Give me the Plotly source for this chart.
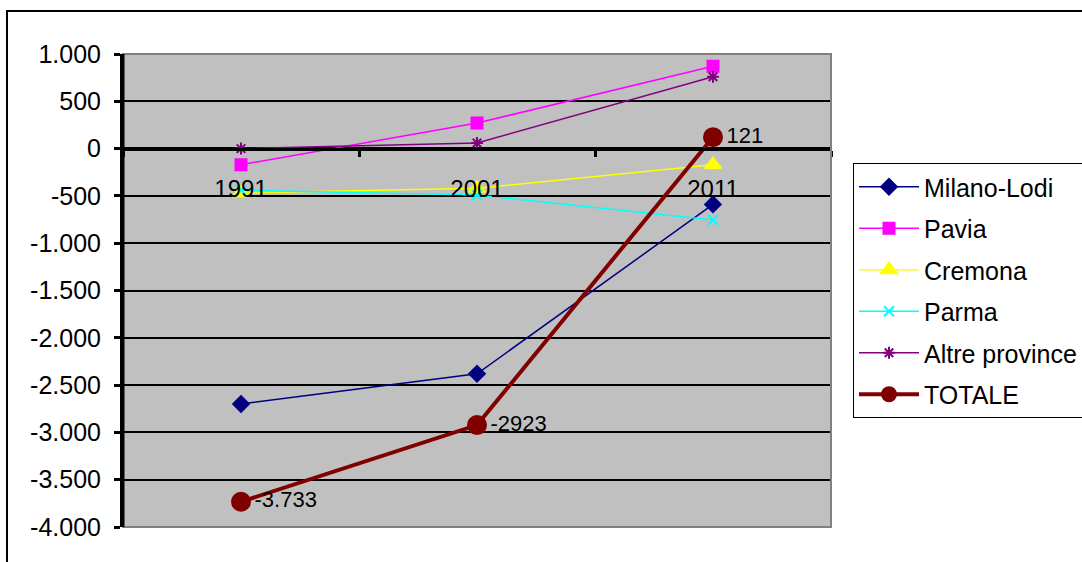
import plotly.graph_objects as go

years = ["1991", "2001", "2011"]
milano_lodi = [-2700, -2380, -590]
pavia = [-170, 270, 870]
cremona = [-470, -420, -170]
parma = [-440, -490, -755]
altre = [0, 60, 760]
totale = [-3733, -2923, 121]
totale_labels = ["-3.733", "-2923", "121"]

y_tickvals = [1000, 500, 0, -500, -1000, -1500, -2000, -2500, -3000, -3500, -4000]
y_ticktext = ["1.000", "500", "0", "-500", "-1.000", "-1.500", "-2.000", "-2.500",
              "-3.000", "-3.500", "-4.000"]

FONT = "Liberation Sans, Arial, sans-serif"

series = [
    ("Milano-Lodi", milano_lodi, "#000080", "diamond", 12),
    ("Pavia", pavia, "#FF00FF", "square", 11),
    ("Cremona", cremona, "#FFFF00", "triangle-up", 14),
    ("Parma", parma, "#00FFFF", "x-thin-open", 10),
    ("Altre province", altre, "#800080", "asterisk-open", 10),
]

fig = go.Figure()
for name, vals, col, sym, sz in series:
    fig.add_trace(go.Scatter(
        x=years, y=vals, name=name, mode="lines+markers", legendgroup=name,
        line=dict(color=col, width=1.5),
        marker=dict(symbol=sym, size=sz, color=col, line=dict(color=col, width=2)),
    ))

fig.add_trace(go.Scatter(
    x=years, y=totale, name="TOTALE", mode="lines+markers+text", legendgroup="TOTALE",
    text=totale_labels, textposition="middle right",
    textfont=dict(family=FONT, size=22, color="black"),
    line=dict(color="#800000", width=4),
    marker=dict(symbol="circle", size=20, color="#800000"),
))

L, R, T, B = 123, 251, 54, 35
W, H = 1082, 562
pw = W - L - R
ph = H - T - B

def px_x(p):
    return (p - L) / pw

def px_y(p):
    return (H - B - p) / ph

fig.update_layout(
    width=W, height=H,
    margin=dict(l=L, r=R, t=T, b=B, pad=0, autoexpand=False),
    paper_bgcolor="white",
    plot_bgcolor="#C0C0C0",
    font=dict(family=FONT, size=24, color="black"),
    showlegend=True,
    legend=dict(
        x=px_x(853), y=px_y(163), xanchor="left", yanchor="top",
        bgcolor="white", bordercolor="black", borderwidth=1,
        font=dict(family=FONT, size=25, color="black"),
        tracegroupgap=6, traceorder="grouped", itemwidth=60,
    ),
    xaxis=dict(
        type="category", range=[-0.5, 2.5],
        anchor="free", position=0.8,
        showline=True, linecolor="black", linewidth=3,
        ticks="outside", ticklen=6, tickwidth=3, tickcolor="black",
        tickson="boundaries", showgrid=False, zeroline=False,
        ticklabelstandoff=18,
        tickfont=dict(family=FONT, size=24, color="black"),
    ),
    yaxis=dict(
        range=[-4000, 1000], tickvals=y_tickvals, ticktext=y_ticktext,
        showgrid=True, gridcolor="black", gridwidth=1.5,
        zeroline=True, zerolinecolor="black", zerolinewidth=3,
        showline=True, linecolor="black", linewidth=3,
        ticks="outside", ticklen=6, tickwidth=3, tickcolor="black",
        ticklabelstandoff=8,
        tickfont=dict(family=FONT, size=25, color="black"),
    ),
    shapes=[
        dict(type="rect", xref="paper", yref="paper", x0=0, x1=1, y0=0, y1=1,
             line=dict(color="#808080", width=2), layer="above"),
        dict(type="line", xref="paper", yref="paper", x0=0, x1=0, y0=0, y1=1,
             line=dict(color="black", width=3), layer="above"),
        dict(type="rect", xref="paper", yref="paper",
             x0=px_x(7), x1=px_x(1100), y0=px_y(11), y1=px_y(600),
             line=dict(color="black", width=2), layer="below"),
    ],
)

fig.write_html("out.html")
